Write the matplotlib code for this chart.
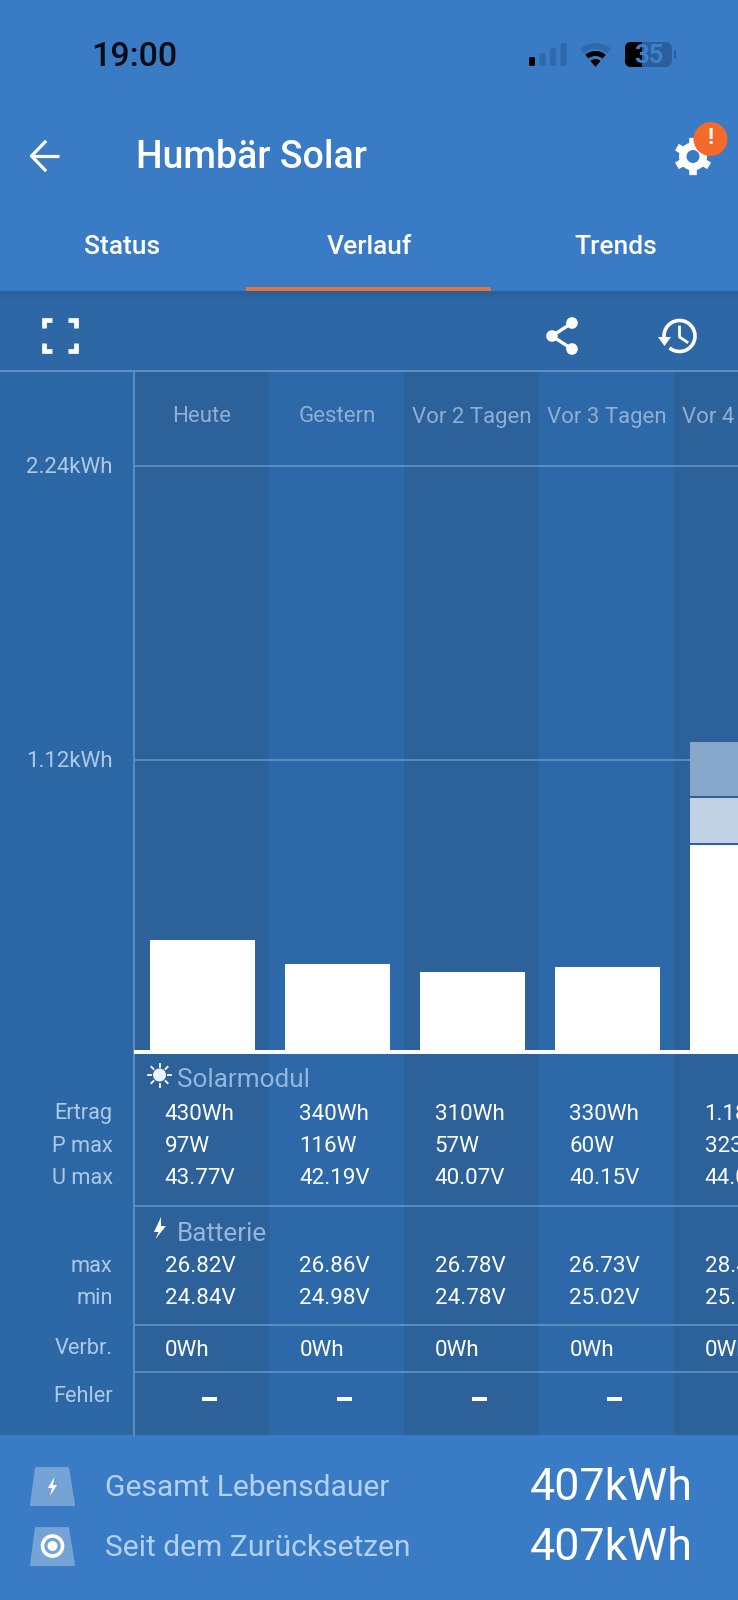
import matplotlib
matplotlib.use("Agg")
import matplotlib.pyplot as plt
from matplotlib.patches import Rectangle, Polygon, Circle, Wedge, FancyBboxPatch, Arc
import numpy as np

plt.rcParams['font.family'] = ['Roboto', 'DejaVu Sans']

days = ['Heute', 'Gestern', 'Vor 2 Tagen', 'Vor 3 Tagen', 'Vor 4 Tagen']
bulk = [0.43, 0.34, 0.31, 0.33, 0.794]
absorption = [0, 0, 0, 0, 0.175]
flt = [0, 0, 0, 0, 0.205]
yticks = [1.12, 2.24]
ytick_labels = ['1.12kWh', '2.24kWh']
row_labels = ['Ertrag', 'P max', 'U max', 'max', 'min', 'Verbr.', 'Fehler']
ertrag = ['430Wh', '340Wh', '310Wh', '330Wh', '1.18kWh']
pmax = ['97W', '116W', '57W', '60W', '323W']
umax = ['43.77V', '42.19V', '40.07V', '40.15V', '44.01V']
bmax = ['26.82V', '26.86V', '26.78V', '26.73V', '28.40V']
bmin = ['24.84V', '24.98V', '24.78V', '25.02V', '25.10V']
verbr = ['0Wh', '0Wh', '0Wh', '0Wh', '0Wh']
fehler = ['-', '-', '-', '-', '-']

W, H = 738, 1600
HEAD = '#3A7BC6'; TOOL = '#2E67A5'; PANEL = '#2D68A6'
DARK = '#2D6199'; LIGHT = '#2D69A9'; LINE = '#5F90C4'
LBL = '#AFC9E6'; HDR = '#93B6DC'

fig = plt.figure(figsize=(W/100, H/100), dpi=100)
bg = fig.add_axes([0, 0, 1, 1]); bg.set_xlim(0, W); bg.set_ylim(H, 0); bg.axis('off')

def rect(x0, y0, x1, y1, c, z=1, a=None):
    bg.add_patch(Rectangle((x0, y0), x1-x0, y1-y0, fc=c, ec='none', zorder=z, alpha=a))

# page blocks
rect(0, 0, W, 291, HEAD)
rect(0, 291, W, 371, TOOL)
rect(0, 371, W, 1435, PANEL)
rect(0, 1435, W, H, HEAD)
for i in range(9):
    rect(0, 291+i, W, 292+i, '#1F4A78', 2, 0.30*(1-i/9))
rect(246, 287, 491, 291, '#E2733A', 3)
bg.plot([0, W], [370.5, 370.5], color=LINE, lw=1.4, zorder=3)

# columns behind everything in table and chart
for i in range(5):
    rect(134+135*i, 371, 134+135*(i+1), 1435, DARK if i % 2 == 0 else LIGHT, 1.5)

# chart
top, base = 371, 1053
px_per_kwh = 293.3/1.12
ax = fig.add_axes([134.5/W, 1-base/H, 1-134.5/W, (base-top)/H])
ax.patch.set_alpha(0)
ax.set_xlim(-0.5, -0.5+(W-134.5)/135)
ax.set_ylim(0, (base-top)/px_per_kwh)
for s in ax.spines.values():
    s.set_visible(False)
ax.set_xticks([]); ax.set_yticks([])
x = np.arange(5)
ax.hlines(yticks, -0.5, 4.5, color=LINE, lw=1.3, zorder=1)
bw = 105/135
ax.bar(x, bulk, bw, color='white', zorder=2)
ax.bar(x, absorption, bw, bottom=np.array(bulk)+0.006, color='#C2D2E4', zorder=2)
ax.bar(x, flt, bw, bottom=np.array(bulk)+np.array(absorption)+0.012, color='#86A6CA', zorder=2)
for i, d in enumerate(days):
    ax.text(i, (base-417)/px_per_kwh, d, ha='center', va='center', color='#8FAFD2', fontsize=16, clip_on=True)
for t, l in zip(yticks, ytick_labels):
    bg.text(112.5, base-t*px_per_kwh+1.5, l, ha='right', va='center', color=LBL, fontsize=16, zorder=4)

# axis lines
bg.plot([134, 134], [371, 1435], color=LINE, lw=1.3, zorder=3)
rect(134, 1050, W, 1053.5, 'white', 4)
for y in [1206, 1325, 1372]:
    bg.plot([134, W], [y, y], color=LINE, lw=1.3, zorder=3)

# table
rows = [(ertrag, 1114), (pmax, 1146), (umax, 1178), (bmax, 1267), (bmin, 1299), (verbr, 1350.5)]
for vals, y in rows:
    for i, v in enumerate(vals):
        bg.text(164.5+135*i, y, v, ha='left', va='center', color='white', fontsize=16.1, zorder=4, clip_on=True)
for i, v in enumerate(fehler):
    rect(202+135*i, 1397, 217+135*i, 1401, 'white', 4)
for l, y in zip(row_labels, [1114, 1146, 1178, 1267, 1299, 1348, 1396]):
    bg.text(112.5, y, l, ha='right', va='center', color=LBL, fontsize=15.7, zorder=4)
bg.text(177, 1080, 'Solarmodul', ha='left', va='center', color=HDR, fontsize=18.8, zorder=4)
bg.text(177, 1234, 'Batterie', ha='left', va='center', color=HDR, fontsize=18.8, zorder=4)
# sun icon
bg.add_patch(Circle((159.5, 1075), 6.5, fc='#EEF2F8', ec='none', zorder=4))
for a in np.arange(0, 360, 45):
    r = np.deg2rad(a)
    bg.plot([159.5+8.5*np.cos(r), 159.5+11.5*np.cos(r)], [1075+8.5*np.sin(r), 1075+11.5*np.sin(r)], color='white', lw=1.3, zorder=4)
# bolt icon
bg.add_patch(Polygon([(161, 1217), (154, 1232), (158.5, 1232), (155.5, 1239), (166, 1226), (161, 1226)], fc='white', ec='none', zorder=4))

# status bar
bg.text(134, 56.5, '19:00', ha='center', va='center', color='#0A0A14', fontsize=24.5, fontweight='medium', zorder=4)
for i, h in enumerate([9, 13, 18, 23]):
    c = 'black' if i == 0 else '#2F69AC'
    bg.add_patch(FancyBboxPatch((529+i*10.5, 66-h), 6, h, boxstyle='round,pad=0,rounding_size=1.5', fc=c, ec='none', zorder=4))
bg.add_patch(Wedge((595.5, 67), 24, 230, 310, width=6, fc='#2F69AC', ec='none', zorder=4))
bg.add_patch(Wedge((595.5, 67), 16, 230, 310, width=5, fc='black', ec='none', zorder=4))
bg.add_patch(Wedge((595.5, 67), 8, 230, 310, fc='black', ec='none', zorder=4))
bg.add_patch(FancyBboxPatch((625, 42), 47, 25, boxstyle='round,pad=0,rounding_size=7', fc='#2A5F9C', ec='none', zorder=4))
bg.add_patch(FancyBboxPatch((625, 42), 16, 25, boxstyle='round,pad=0,rounding_size=6', fc='black', ec='none', zorder=4))
rect(634, 42, 642, 67, 'black', 4)
rect(673.5, 50, 676, 59, '#2A5F9C', 4)
bg.text(649, 56, '35', ha='center', va='center', color='#3F80CC', fontsize=18.5, fontweight='bold', zorder=5)

# app bar
bg.plot([59, 32], [156, 156], color='white', lw=2.3, zorder=4, solid_capstyle='butt')
bg.plot([45, 31.5, 45], [142, 156, 170], color='white', lw=2.3, zorder=4)
bg.text(136, 157.5, 'Humbär Solar', ha='left', va='center', color='white', fontsize=27, fontweight='medium', zorder=4)
for t, xx in zip(['Status', 'Verlauf', 'Trends'], [122, 369, 616]):
    bg.text(xx, 247, t, ha='center', va='center', color='white', fontsize=19, fontweight='medium', zorder=4)
# gear
gx, gy = 693, 156.5
bg.add_patch(Circle((gx, gy), 14, fc='white', ec='none', zorder=4))
for a in np.arange(0, 360, 60):
    r = np.deg2rad(a+30)
    bg.add_patch(Polygon([(gx+13*np.cos(r-.3), gy+13*np.sin(r-.3)), (gx+19*np.cos(r-.2), gy+19*np.sin(r-.2)),
                          (gx+19*np.cos(r+.2), gy+19*np.sin(r+.2)), (gx+13*np.cos(r+.3), gy+13*np.sin(r+.3))], fc='white', ec='none', zorder=4))
bg.add_patch(Circle((gx, gy), 6.5, fc=HEAD, ec='none', zorder=5))
bg.add_patch(Circle((710.5, 139), 17, fc='#F26B2A', ec='none', zorder=6))
bg.text(710.5, 138.5, '!', ha='center', va='center', color='white', fontsize=16, fontweight='bold', zorder=7)

# tool bar icons
for (cx, cy, sx, sy) in [(43.7, 319.7, 1, 1), (76.3, 319.7, -1, 1), (43.7, 351.3, 1, -1), (76.3, 351.3, -1, -1)]:
    bg.plot([cx, cx, cx+sx*8], [cy+sy*8, cy, cy], color='white', lw=3.4, solid_joinstyle='miter', solid_capstyle='butt', zorder=4)
pts = [(572, 323), (552, 336), (572, 349)]
bg.plot(*zip(*pts), color='white', lw=2.4, zorder=4)
for p in pts:
    bg.add_patch(Circle(p, 5.8, fc='white', ec='none', zorder=4))
bg.add_patch(Arc((679.5, 336), 31, 31, theta1=-200, theta2=130, color='white', lw=2.6, zorder=4))
bg.add_patch(Polygon([(658, 337), (671, 337), (664.5, 346)], fc='white', ec='none', zorder=4))
bg.plot([679.5, 679.5, 687], [327, 337, 342], color='white', lw=2, zorder=4)

# footer
for y0 in [1468, 1528]:
    bg.add_patch(Polygon([(36, y0), (68, y0), (74, y0+37), (31, y0+37)], fc='#76A3D6', ec='#76A3D6', lw=1.5, joinstyle='round', zorder=4))
bg.add_patch(Polygon([(54.5, 1477), (48, 1488), (52, 1488), (50, 1496), (57, 1485), (53, 1485)], fc='white', ec='none', zorder=5))
bg.add_patch(Circle((52.5, 1546), 10, fc='none', ec='white', lw=2.6, zorder=5))
bg.add_patch(Circle((52.5, 1546), 5, fc='white', ec='none', zorder=5))
bg.text(105, 1488, 'Gesamt Lebensdauer', ha='left', va='center', color='#B3D1F2', fontsize=21.6, zorder=4)
bg.text(105, 1548, 'Seit dem Zurücksetzen', ha='left', va='center', color='#B3D1F2', fontsize=21.6, zorder=4)
bg.text(692.5, 1488, '407kWh', ha='right', va='center', color='white', fontsize=32.3, zorder=4)
bg.text(692.5, 1548, '407kWh', ha='right', va='center', color='white', fontsize=32.3, zorder=4)

fig.savefig('out.png', dpi=100)
